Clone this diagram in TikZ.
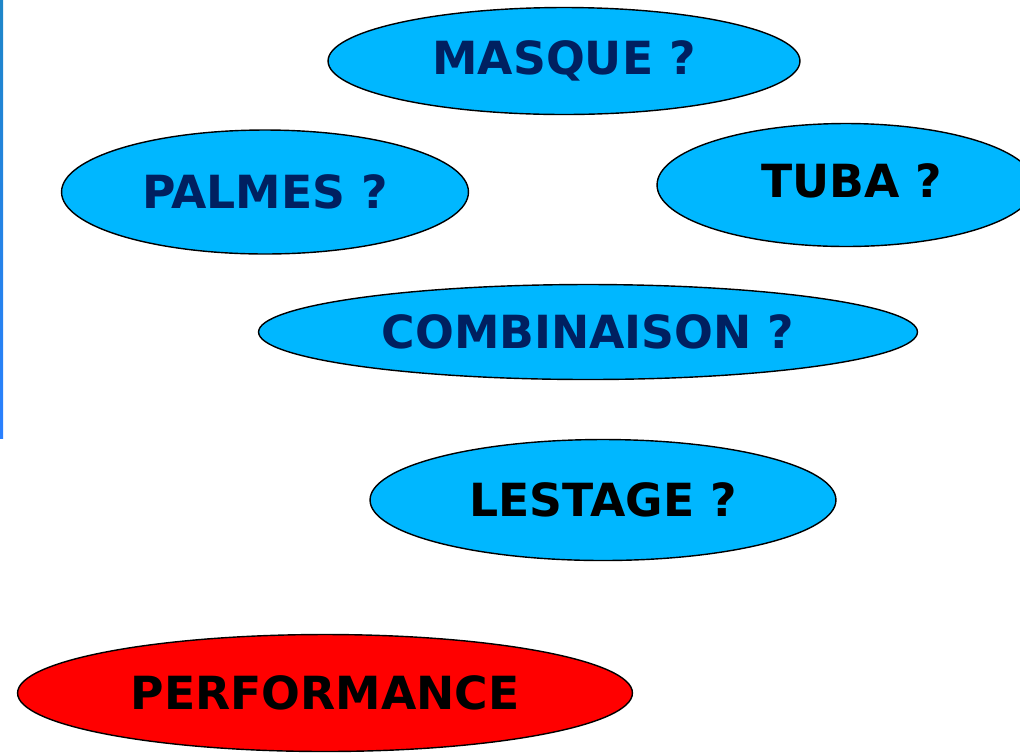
\documentclass[tikz,border=0pt]{standalone}
\usepackage{fontspec}
\setmainfont{DejaVu Sans}
\usetikzlibrary{shapes, positioning}

\definecolor{bubble}{RGB}{0,183,255}
\definecolor{navytext}{RGB}{0,32,96}
\definecolor{stripTop}{RGB}{30,134,200}
\definecolor{stripMid}{RGB}{40,196,255}
\definecolor{stripBot}{RGB}{42,128,255}

\begin{document}
\begin{tikzpicture}[x=0.02cm, y=-0.02cm,
    % Define node styles for the question bubbles.
    question/.style={
      ellipse, draw=black, line width=0.8pt, fill=bubble, inner sep=0pt,
      text centered, font=\fontsize{26}{30}\selectfont\bfseries
    },
    goal/.style={
      ellipse, draw=black, line width=0.8pt, fill=red, inner sep=0pt,
      text centered, font=\fontsize{26}{30}\selectfont\bfseries
    }
]
\useasboundingbox (0,0) rectangle (1020,755);
\clip (0,0) rectangle (1020,755);

% Thin blue strip on the left edge
\shade [top color=stripTop, middle color=stripMid, bottom color=stripBot]
  (0,0) rectangle (3,438);

% Node 1: Masque
\node [question, minimum width=9.44cm, minimum height=2.14cm,
       text=navytext] (masque) at (564,61) {MASQUE ?};

% Node 2: Palmes
\node [question, minimum width=8.14cm, minimum height=2.48cm,
       text=navytext] (palmes) at (265,192) {PALMES ?};

% Node 3: Tuba (runs past the right edge)
\node [question, minimum width=7.56cm, minimum height=2.46cm,
       text=black] (tuba) at (846,185) {};
\node [text=black, font=\fontsize{26}{30}\selectfont\bfseries] (tubatext) at (852,181) {TUBA ?};

% Node 4: Combinaison
\node [question, minimum width=13.18cm, minimum height=1.9cm,
       text=navytext] (combinaison) at (588,332) {COMBINAISON ?};

% Node 5: Lestage
\node [question, minimum width=9.32cm, minimum height=2.42cm,
       text=black] (lestage) at (603,500) {LESTAGE ?};

% Node 6: Performance
\node [goal, minimum width=12.3cm, minimum height=2.34cm,
       text=black] (performance) at (325,693) {PERFORMANCE};

\end{tikzpicture}
\end{document}
